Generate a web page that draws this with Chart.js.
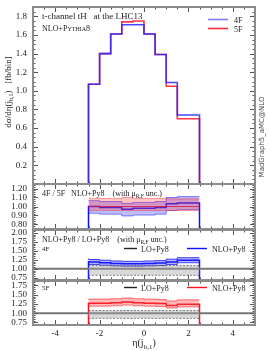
<!DOCTYPE html>
<html lang="en">
<head>
<meta charset="UTF-8">
<title>t-channel tH eta(jb1)</title>
<script src="https://cdn.jsdelivr.net/npm/chart.js"></script>
<style>
  body { margin: 0; background: #fff; }
  #wrap { position: relative; width: 270px; height: 351px; }
  canvas { position: absolute; left: 0; }
</style>
</head>
<body>
<div id="wrap">
  <canvas id="cMain" width="270" height="185" style="top:0px"></canvas>
  <canvas id="cR1" width="270" height="46" style="top:184px"></canvas>
  <canvas id="cR2" width="270" height="52" style="top:229px"></canvas>
  <canvas id="cR3" width="270" height="71" style="top:280px"></canvas>
</div>
<script>
// bins in eta(j_b,1)
const binEdges = [-2.5, -2, -1.5, -1, -0.5, 0, 0.5, 1, 1.5, 2, 2.5];

// main panel: dsigma/deta [fb/bin]
const main4F = [0.74, 1.07, 1.40, 1.61, 1.71, 1.71, 1.61, 1.39, 1.09, 0.74];
const main5F = [0.72, 1.07, 1.40, 1.61, 1.74, 1.75, 1.61, 1.39, 1.05, 0.70];

// ratio 4F/5F with scale unc.
const r45Central = [1.00, 1.00, 0.99, 0.99, 0.97, 0.98, 0.98, 0.99, 1.03, 1.04];
const r45Up = [1.065, 1.065, 1.055, 1.055, 1.035, 1.045, 1.045, 1.055, 1.10, 1.11];
const r45Dn = [0.925, 0.925, 0.915, 0.915, 0.895, 0.905, 0.905, 0.915, 0.955, 0.965];
const r5Central = [1, 1, 1, 1, 1, 1, 1, 1, 1, 1];
const r5Up = [1.09, 1.09, 1.09, 1.09, 1.10, 1.09, 1.09, 1.09, 1.085, 1.085];
const r5Dn = [0.955, 0.955, 0.955, 0.955, 0.955, 0.955, 0.955, 0.955, 0.955, 0.955];

// NLO/LO, 4F
const nlo4Central = [1.22, 1.19, 1.17, 1.15, 1.14, 1.14, 1.15, 1.16, 1.19, 1.24];
const nlo4Up = [1.29, 1.26, 1.24, 1.22, 1.21, 1.21, 1.22, 1.23, 1.27, 1.31];
const nlo4Dn = [1.15, 1.12, 1.10, 1.08, 1.07, 1.07, 1.08, 1.09, 1.12, 1.17];
const lo4Up = [1.09, 1.09, 1.09, 1.09, 1.09, 1.09, 1.09, 1.09, 1.09, 1.09];
const lo4Dn = [0.82, 0.82, 0.82, 0.82, 0.82, 0.82, 0.82, 0.82, 0.82, 0.82];

// NLO/LO, 5F
const nlo5Central = [1.24, 1.27, 1.27, 1.28, 1.30, 1.28, 1.27, 1.26, 1.21, 1.24];
const nlo5Up = [1.36, 1.38, 1.38, 1.39, 1.41, 1.39, 1.38, 1.37, 1.33, 1.36];
const nlo5Dn = [1.17, 1.19, 1.19, 1.20, 1.22, 1.20, 1.19, 1.18, 1.14, 1.17];
const lo5Up = [1.07, 1.07, 1.07, 1.07, 1.07, 1.07, 1.07, 1.07, 1.07, 1.07];
const lo5Dn = [0.86, 0.86, 0.86, 0.86, 0.86, 0.86, 0.86, 0.86, 0.86, 0.86];
const loRef = 1.0;

// axes
const xRange = [-5, 5];
const xTicks = [-4, -2, 0, 2, 4];
const mainYTicks = [0.2, 0.4, 0.6, 0.8, 1.0, 1.2, 1.4, 1.6, 1.8];
const r1YTicks = [0.8, 0.9, 1.0, 1.1, 1.2];
const r2YTicks = [0.75, 1.0, 1.25, 1.5, 1.75, 2.0];
const r3YTicks = [0.75, 1.0, 1.25, 1.5, 1.75];

const SERIF = "'Liberation Serif', 'DejaVu Serif', serif";

// histogram outline: drops to base at both ends
function histPoints(vals, base) {
  const pts = [{ x: binEdges[0], y: base }];
  vals.forEach((v, i) => pts.push({ x: binEdges[i], y: v }));
  pts.push({ x: binEdges[binEdges.length - 1], y: vals[vals.length - 1] });
  pts.push({ x: binEdges[binEdges.length - 1], y: base });
  return pts;
}
function bandPoints(vals) {
  const pts = vals.map((v, i) => ({ x: binEdges[i], y: v }));
  pts.push({ x: binEdges[binEdges.length - 1], y: vals[vals.length - 1] });
  return pts;
}
function stepLine(data, color, width, extra) {
  return Object.assign({ data, borderColor: color, borderWidth: width, stepped: 'after', fill: false, pointRadius: 0 }, extra || {});
}

function line(ctx, x1, y1, x2, y2) {
  ctx.beginPath(); ctx.moveTo(x1, y1); ctx.lineTo(x2, y2); ctx.stroke();
}
// text with sub-parts: [text, size, dy]
function richText(ctx, x, y, parts, align) {
  let w = 0;
  parts.forEach(p => { ctx.font = p[1] + 'px ' + SERIF; w += ctx.measureText(p[0]).width; });
  let cx = align === 'center' ? x - w / 2 : x;
  parts.forEach(p => {
    ctx.font = p[1] + 'px ' + SERIF;
    ctx.fillText(p[0], cx, y + (p[2] || 0));
    cx += ctx.measureText(p[0]).width;
  });
}

const framePlugin = {
  id: 'frame',
  afterDatasetsDraw(chart, args, opts) {
    const { ctx, chartArea: a, scales: { x, y } } = chart;
    ctx.save();
    ctx.beginPath(); ctx.rect(a.left, a.top, a.width, a.height); ctx.clip();
    ctx.strokeStyle = '#555'; ctx.lineWidth = 1;
    for (let k = -10; k <= 10; k++) {
      const v = k * 0.5;
      const px = Math.round(x.getPixelForValue(v)) + 0.5;
      const len = (k % 4 === 0) ? 5 : 2.5;
      line(ctx, px, a.bottom, px, a.bottom - len);
      line(ctx, px, a.top, px, a.top + len);
    }
    const n0 = Math.ceil(y.min / opts.minor), n1 = Math.floor(y.max / opts.minor);
    for (let k = n0; k <= n1; k++) {
      const v = k * opts.minor;
      const py = Math.round(y.getPixelForValue(v)) + 0.5;
      const major = opts.yTicks.some(t => Math.abs(t - v) < 1e-6);
      const len = major ? 5 : 2.5;
      line(ctx, a.left, py, a.left + len, py);
      line(ctx, a.right, py, a.right - len, py);
    }
    ctx.restore();
    ctx.save();
    ctx.strokeStyle = '#8c8c8c'; ctx.lineWidth = 2;
    ctx.strokeRect(a.left, a.top, a.width, a.height);
    ctx.restore();
  }
};

function makeChart(id, yMin, yMax, yTicks, dec, minor, datasets, padding, showX, textPlugin) {
  return new Chart(document.getElementById(id), {
    type: 'line',
    data: { datasets },
    options: {
      responsive: false,
      animation: false,
      layout: { padding },
      plugins: { legend: { display: false }, tooltip: { enabled: false }, frame: { minor, yTicks } },
      elements: { point: { radius: 0 }, line: { tension: 0 } },
      scales: {
        x: {
          type: 'linear', min: xRange[0], max: xRange[1], display: showX,
          afterFit: s => { s.height = showX ? 26 : 0; s.paddingLeft = 0; s.paddingRight = 0; },
          afterBuildTicks: s => { s.ticks = xTicks.map(v => ({ value: v })); },
          ticks: { font: { family: SERIF, size: 9 }, color: '#222', padding: 3, maxRotation: 0, autoSkip: false },
          grid: { display: false, drawTicks: false }, border: { display: false }
        },
        y: {
          min: yMin, max: yMax,
          afterFit: s => { s.width = 33; s.paddingTop = 0; s.paddingBottom = 0; },
          afterBuildTicks: s => { s.ticks = yTicks.map(v => ({ value: v })); },
          ticks: { callback: v => v.toFixed(dec), font: { family: SERIF, size: 9 }, color: '#222', padding: 6, autoSkip: false },
          grid: { display: false, drawTicks: false }, border: { display: false }
        }
      }
    },
    plugins: [framePlugin, textPlugin]
  });
}

// main panel
makeChart('cMain', 0, 1.9, mainYTicks, 1, 0.05, [
  stepLine(histPoints(main4F, 0), 'rgba(40,40,255,0.85)', 1.6),
  stepLine(histPoints(main5F, 0), 'rgba(255,20,40,0.85)', 1.6)
], { top: 7, right: 15, bottom: 1, left: 0 }, false, {
  id: 'mainText',
  afterDraw(chart) {
    const ctx = chart.ctx;
    ctx.save();
    ctx.fillStyle = '#222';
    ctx.textBaseline = 'alphabetic';
    richText(ctx, 42, 19, [['t-channel tH', 9], ['   at the LHC13', 9]]);
    richText(ctx, 42, 31, [['NLO+P', 8], ['YTHIA', 6], ['8', 8]]);
    ctx.lineWidth = 1.6;
    ctx.strokeStyle = 'rgba(40,40,255,0.6)'; line(ctx, 208, 19.5, 228, 19.5);
    ctx.strokeStyle = 'rgba(255,20,40,0.9)'; line(ctx, 208, 28.5, 228, 28.5);
    richText(ctx, 234, 22.5, [['4F', 8]]);
    richText(ctx, 234, 31.5, [['5F', 8]]);
    // y title
    ctx.save();
    ctx.translate(11, 92); ctx.rotate(-Math.PI / 2);
    richText(ctx, 0, 0, [['d\u03c3/d\u03b7(j', 9], ['b,1', 6, 2], [')   [fb/bin]', 9]], 'center');
    ctx.restore();
    // generator tag
    ctx.save();
    ctx.translate(264, 137); ctx.rotate(-Math.PI / 2);
    ctx.font = "7px 'DejaVu Sans', sans-serif"; ctx.fillStyle = '#444'; ctx.textAlign = 'center';
    ctx.fillText('MadGraph5_aMC@NLO', 0, 0);
    ctx.restore();
    ctx.restore();
  }
});

// 4F/5F ratio
makeChart('cR1', 0.75, 1.25, r1YTicks, 2, 0.02, [
  stepLine(bandPoints(r5Up), 'rgba(255,0,0,0.45)', 0.8, { fill: '+1', backgroundColor: 'rgba(255,60,60,0.3)' }),
  stepLine(bandPoints(r5Dn), 'rgba(255,0,0,0.45)', 0.8),
  stepLine(bandPoints(r45Up), 'rgba(0,0,255,0.6)', 0.8, { fill: '+1', backgroundColor: 'rgba(40,40,255,0.3)' }),
  stepLine(bandPoints(r45Dn), 'rgba(0,0,255,0.6)', 0.8),
  stepLine(bandPoints(r5Central), 'rgba(255,0,0,0.8)', 1.2),
  stepLine(histPoints(r45Central, 0), '#1010ff', 1.5)
], { top: 0, right: 15, bottom: 1, left: 0 }, false, {
  id: 'r1Text',
  afterDraw(chart) {
    const ctx = chart.ctx;
    ctx.save(); ctx.fillStyle = '#222';
    richText(ctx, 42, 12, [['4F / 5F   NLO+Py8    (with \u03bc', 8], ['R,F', 5.5, 2], [' unc.)', 8]]);
    ctx.restore();
  }
});

// NLO/LO 4F
makeChart('cR2', 0.69, 2.08, r2YTicks, 2, 0.05, [
  stepLine(bandPoints(lo4Up), '#555', 0.8, { fill: '+1', backgroundColor: 'rgba(160,160,160,0.4)', borderDash: [2, 1.5] }),
  stepLine(bandPoints(lo4Dn), '#555', 0.8, { borderDash: [2, 1.5] }),
  stepLine([{ x: xRange[0], y: loRef }, { x: xRange[1], y: loRef }], '#777', 2),
  stepLine(bandPoints(nlo4Up), 'rgba(0,0,230,0.8)', 0.9, { fill: '+1', backgroundColor: 'rgba(40,40,255,0.35)' }),
  stepLine(bandPoints(nlo4Dn), 'rgba(0,0,230,0.8)', 0.9),
  stepLine(histPoints(nlo4Central, 0), '#1010ff', 1.5)
], { top: 1, right: 15, bottom: 1, left: 0 }, false, {
  id: 'r2Text',
  afterDraw(chart) {
    const ctx = chart.ctx;
    ctx.save(); ctx.fillStyle = '#222';
    richText(ctx, 42, 13, [['NLO+Py8 / LO+Py8    (with \u03bc', 8], ['R,F', 5.5, 2], [' unc.)', 8]]);
    richText(ctx, 42, 22, [['4F', 7]]);
    ctx.lineWidth = 1.4;
    ctx.strokeStyle = '#222'; line(ctx, 124, 19.5, 137, 19.5);
    ctx.strokeStyle = '#1010ff'; line(ctx, 187, 19.5, 207, 19.5);
    richText(ctx, 141, 22.5, [['LO+Py8', 8]]);
    richText(ctx, 212, 22.5, [['NLO+Py8', 8]]);
    ctx.restore();
  }
});

// NLO/LO 5F
makeChart('cR3', 0.68, 1.87, r3YTicks, 2, 0.05, [
  stepLine(bandPoints(lo5Up), '#555', 0.8, { fill: '+1', backgroundColor: 'rgba(160,160,160,0.4)', borderDash: [2, 1.5] }),
  stepLine(bandPoints(lo5Dn), '#555', 0.8, { borderDash: [2, 1.5] }),
  stepLine([{ x: xRange[0], y: loRef }, { x: xRange[1], y: loRef }], '#777', 2),
  stepLine(bandPoints(nlo5Up), 'rgba(255,0,0,0.6)', 0.9, { fill: '+1', backgroundColor: 'rgba(255,60,60,0.35)' }),
  stepLine(bandPoints(nlo5Dn), 'rgba(255,0,0,0.6)', 0.9),
  stepLine(histPoints(nlo5Central, 0), '#ff1020', 1.5)
], { top: 1, right: 15, bottom: 0, left: 0 }, true, {
  id: 'r3Text',
  afterDraw(chart) {
    const ctx = chart.ctx;
    ctx.save(); ctx.fillStyle = '#222';
    richText(ctx, 42, 9.5, [['5F', 7]]);
    ctx.lineWidth = 1.4;
    ctx.strokeStyle = '#222'; line(ctx, 124, 7.5, 137, 7.5);
    ctx.strokeStyle = '#ff1020'; line(ctx, 187, 7.5, 207, 7.5);
    richText(ctx, 141, 10.5, [['LO+Py8', 8]]);
    richText(ctx, 212, 10.5, [['NLO+Py8', 8]]);
    richText(ctx, 144, 66, [['\u03b7(j', 10], ['b,1', 7, 2.5], [')', 10]], 'center');
    ctx.restore();
  }
});
</script>
</body>
</html>
